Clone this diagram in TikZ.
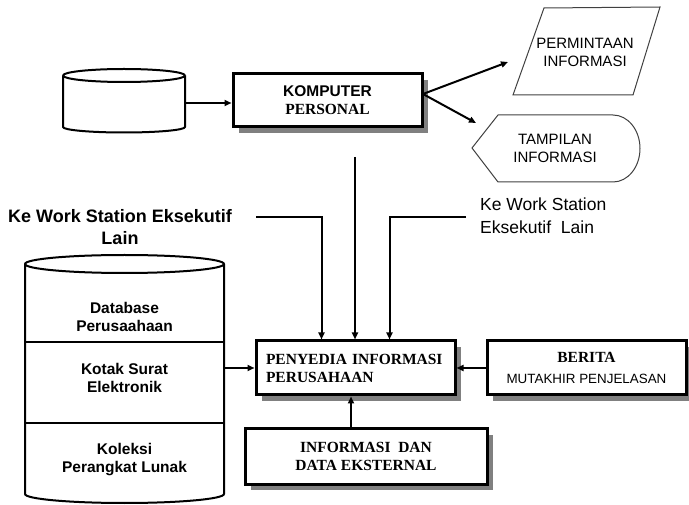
\documentclass[tikz,border=0pt]{standalone}
\usepackage{fontspec}
\setmainfont{Liberation Serif}
\setsansfont{Liberation Sans}
\usetikzlibrary{arrows.meta,shadows}

\tikzset{
  blockbox/.style={draw, line width=3pt, fill=white, inner sep=0pt,
    drop shadow={shadow xshift=6pt, shadow yshift=-6pt, fill=black!50, opacity=1}},
  link/.style={line width=2pt, -{Triangle[length=7pt,width=6pt]}},
  drum/.style={line width=2pt, line join=round},
  thinshape/.style={line width=1pt, draw=black!75},
  serbold/.style={font=\rmfamily\bfseries\fontsize{15.5}{18}\selectfont},
  sanslabel/.style={font=\sffamily\fontsize{15}{18}\selectfont},
  drumtext/.style={font=\sffamily\bfseries\fontsize{15.5}{18}\selectfont, align=center},
}

\begin{document}
\begin{tikzpicture}[x=1pt, y=-1pt]
  \useasboundingbox (0,0) rectangle (689,505);

  % small disk store at the top left
  \draw[drum] (124,75.5) ellipse [x radius=61pt, y radius=6.5pt];
  \draw[drum] (63,75.5) -- (63,127)
    arc[start angle=180, end angle=360, x radius=61pt, y radius=5.5pt] -- (185,75.5);
  \coordinate (dsk) at (185,103);

  % large database drum with three sections
  \draw[drum] (124.5,264) ellipse [x radius=99.5pt, y radius=9pt];
  \draw[drum] (25,264) -- (25,494)
    arc[start angle=180, end angle=360, x radius=99.5pt, y radius=9pt] -- (224,264);
  \draw[drum] (25,342) -- (224,342);
  \draw[drum] (25,423) -- (224,423);
  \node[drumtext] (dbtxt) at (124.5,317) {Database\\Perusaahaan};
  \node[drumtext] (mailtxt) at (124.5,378) {Kotak Surat\\Elektronik};
  \node[drumtext] (softtxt) at (124.5,460) {Koleksi\\Perangkat Lunak};
  \coordinate (dbout) at (224,368);

  % main boxes
  \node[blockbox, font=\bfseries\fontsize{15.5}{18}\selectfont,
        minimum width=189pt, minimum height=53pt, align=center] (pc) at (327.5,100.5)
    {{\sffamily KOMPUTER}\\{\rmfamily PERSONAL}};

  \node[blockbox, serbold, minimum width=199pt, minimum height=54pt,
        inner xsep=10pt, text width=179pt, align=left] (pis) at (355.5,368)
    {PENYEDIA INFORMASI\\PERUSAHAAN};

  \node[blockbox, font=\fontsize{15.5}{18}\selectfont,
        minimum width=199pt, minimum height=54pt, align=center] (news) at (586.5,368)
    {\raisebox{3pt}{\rmfamily\bfseries BERITA}\\
     {\sffamily\fontsize{13.4}{16}\selectfont MUTAKHIR PENJELASAN}};

  \node[blockbox, serbold, minimum width=242pt, minimum height=55pt, align=center] (ext) at (366,456.5)
    {INFORMASI\ \ DAN\\DATA EKSTERNAL};

  % output shapes on the right
  \draw[thinshape] (544,8) -- (660,7) -- (633,95) -- (513,95) -- cycle;
  \node[sanslabel, align=center] (req) at (585,52) {PERMINTAAN\\INFORMASI};

  \draw[thinshape] (472,148) -- (498,115) -- (613,115)
    arc[start angle=90, end angle=-90, x radius=27pt, y radius=33.5pt] -- (498,182) -- cycle;
  \node[sanslabel, align=center] (disp) at (555,148.5) {TAMPILAN\\INFORMASI};

  % labels for the other workstations
  \node[font=\sffamily\bfseries\fontsize{18}{22}\selectfont, align=center] (wsl) at (120,227)
    {Ke Work Station Eksekutif\\Lain};
  \node[font=\sffamily\fontsize{17.5}{23}\selectfont, align=left, anchor=west, inner sep=0pt] (wsr) at (480,216)
    {Ke Work Station\\Eksekutif\ \ Lain};

  % connectors
  \coordinate (pcout) at (423,94);
  \coordinate (reqin) at (508,62);
  \coordinate (dispin) at (476,123);
  \coordinate (pcdown) at (355,157);
  \coordinate (wl) at (256,217);
  \coordinate (wr) at (466,217);

  \draw[link] (dsk) -- (dsk -| pc.west);
  \draw[link] (pcout) -- (reqin);
  \draw[link] (pcout) -- (dispin);
  \draw[link] (pcdown) -- (pcdown |- pis.north);
  \draw[link] (wl) -| ([xshift=67pt]pis.north west);
  \draw[link] (wr) -| ([xshift=135pt]pis.north west);
  \draw[link] (dbout) -- (dbout -| pis.west);
  \draw[link] (news.west) -- (pis.east);
  \draw[link] ([xshift=-15pt]ext.north) -- ([xshift=-15pt]ext.north |- pis.south);
\end{tikzpicture}
\end{document}
